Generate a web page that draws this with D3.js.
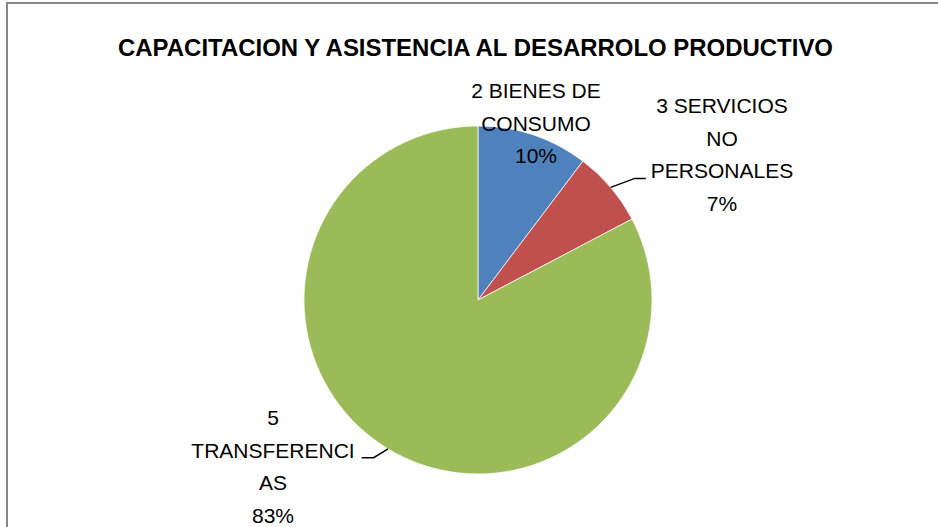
<!DOCTYPE html>
<html>
<head>
<meta charset="utf-8">
<script src="https://cdn.jsdelivr.net/npm/d3@7/dist/d3.min.js"></script>
<style>
  body { margin: 0; background: #fff; }
  text { font-family: "Liberation Sans", Arial, sans-serif; fill: #000; }
</style>
</head>
<body>
<div id="chart-container"></div>
<script>
/*
    Pie chart: capacitacion y asistencia al desarrollo productivo
 */

// chart data
var chart_title = "CAPACITACION Y ASISTENCIA AL DESARROLO PRODUCTIVO";
var categories = ["2 BIENES DE CONSUMO", "3 SERVICIOS NO PERSONALES", "5 TRANSFERENCIAS"];
// how the labels wrap in the reference
var category_lines = [
    ["2 BIENES DE", "CONSUMO"],
    ["3 SERVICIOS", "NO", "PERSONALES"],
    ["5", "TRANSFERENCI", "AS"]
];
var shares = [10.3, 7.0, 82.7];
var slice_colors = ["#4F81BD", "#C0504D", "#9BBB59"];

// layout
var svg_size = { 'width': 938, 'height': 527 };
var pie_center = { 'x': 478, 'y': 300 };
var pie_radius = 174;
var line_height = 32.7;
// label anchor (centre x, first baseline) relative to pie centre, and leader info
var label_layout = [
    { 'dx': 58,   'dy': -202, 'leader': null },
    { 'dx': 244,  'dy': -187, 'leader': { 'line': 2, 'side': 'left' } },
    { 'dx': -205, 'dy': 125,  'leader': { 'line': 1, 'side': 'right' } }
];

var svg = d3.select("#chart-container")
    .append("svg")
    .attr('width', svg_size.width)
    .attr('height', svg_size.height);

// chart area border (runs off the right and bottom of the picture)
svg.append('rect')
    .attr('x', 7)
    .attr('y', 3)
    .attr('width', svg_size.width + 20)
    .attr('height', svg_size.height + 20)
    .style('fill', 'none')
    .style('stroke', '#868686')
    .style('stroke-width', '2px');

svg.append('text')
    .attr('x', 475.5)
    .attr('y', 56)
    .attr('text-anchor', 'middle')
    .attr('textLength', 715)
    .attr('lengthAdjust', 'spacingAndGlyphs')
    .style('font-size', '24px')
    .style('font-weight', 'bold')
    .text(chart_title);

var pie_data = d3.pie()
    .sort(null)
    .value(function(d){ return d; })(shares);

var total = d3.sum(shares);
var pct_format = d3.format(".0%");

var arc = d3.arc()
    .innerRadius(0)
    .outerRadius(pie_radius);

var edge_arc = d3.arc()
    .innerRadius(pie_radius)
    .outerRadius(pie_radius);

var pie_group = svg.append('g')
    .attr('transform', 'translate(' + pie_center.x + ',' + pie_center.y + ')');

pie_group.selectAll('.slice')
    .data(pie_data)
    .enter()
    .append('path')
    .classed('slice', true)
    .attr('d', arc)
    .style('fill', function(d, i){ return slice_colors[i]; })
    .style('stroke', '#fff')
    .style('stroke-width', '0.75px');

var label_group = pie_group.selectAll('.slice-label')
    .data(pie_data)
    .enter()
    .append('g')
    .classed('slice-label', true);

label_group.each(function(d, i){
    var g = d3.select(this);
    var lay = label_layout[i];
    var lines = category_lines[i].concat([pct_format(d.value / total)]);
    var text_nodes = [];

    lines.forEach(function(line, k){
        var t = g.append('text')
            .attr('x', lay.dx)
            .attr('y', lay.dy + k * line_height)
            .attr('text-anchor', 'middle')
            .style('font-size', '21px')
            .text(line);
        text_nodes.push(t);
    });

    if (lay.leader) {
        var attach = text_nodes[lay.leader.line];
        var half = attach.node().getComputedTextLength() / 2;
        var y = lay.dy + lay.leader.line * line_height;
        var end_x, elbow_x;
        if (lay.leader.side === 'left') {
            end_x = lay.dx - half - 5;
            elbow_x = end_x - 11;
        } else {
            end_x = lay.dx + half + 7;
            elbow_x = end_x + 12;
        }
        var start = edge_arc.centroid(d);
        g.append('path')
            .attr('d', d3.line()([start, [elbow_x, y], [end_x, y]]))
            .style('fill', 'none')
            .style('stroke', '#000')
            .style('stroke-width', '1.5px');
    }
});
</script>
</body>
</html>
